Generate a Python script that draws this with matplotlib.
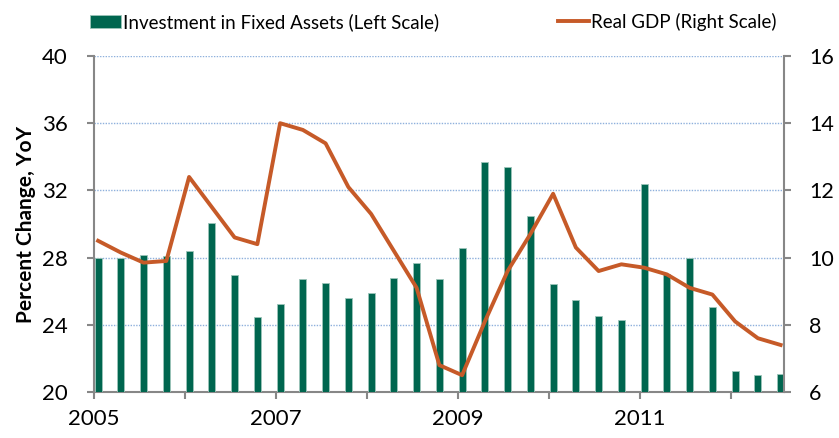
import numpy as np
import matplotlib
matplotlib.use("Agg")
import matplotlib.pyplot as plt

# ── data (quarterly, 2005Q1 – 2012Q3) ─────────────────────────────────────────
start_year = 2005
investment = [28.0, 28.0, 28.15, 28.1, 28.4, 30.05, 26.95, 24.45, 25.25, 26.7,
              26.5, 25.6, 25.9, 26.8, 27.65, 26.7, 28.6, 33.7, 33.4, 30.5,
              26.4, 25.45, 24.5, 24.3, 32.4, 27.05, 27.95, 25.05, 21.25, 21.0,
              21.05]
real_gdp = [10.5, 10.15, 9.85, 9.9, 12.4, 11.5, 10.6, 10.4, 14.0, 13.8,
            13.4, 12.1, 11.3, 10.2, 9.1, 6.8, 6.5, 8.1, 9.6, 10.7,
            11.9, 10.3, 9.6, 9.8, 9.7, 9.5, 9.1, 8.9, 8.1, 7.6, 7.4]
year_ticks = [2005, 2007, 2009, 2011]

# ── plot ──────────────────────────────────────────────────────────────────────
plt.rcParams["font.family"] = ["Lato", "DejaVu Sans"]

GREEN = "#00664F"
ORANGE = "#C65A28"
GREY = "#878787"
W, H = 839, 438

x = start_year + 0.045 + 0.25 * np.arange(len(investment))

fig = plt.figure(figsize=(W / 100, H / 100), dpi=100)
ax = fig.add_axes([94 / W, 1 - 392 / H, 690 / W, 336 / H])
ax2 = ax.twinx()

bars = ax.bar(x, investment, width=0.075, color=GREEN, edgecolor="#9CC5BA",
              linewidth=0.6, zorder=3, label="Investment in Fixed Assets (Left Scale)")
line, = ax2.plot(x, real_gdp, color=ORANGE, linewidth=2.8, zorder=4,
                 label="Real GDP (Right Scale)")

ax.set_xlim(2005, 2012.582)
ax.set_ylim(20, 40)
ax.set_yticks(np.arange(20, 41, 4))
ax2.set_ylim(6, 16)
ax2.set_yticks(np.arange(6, 17, 2))

ax.set_xticks(np.arange(2005, 2013, 1))
ax.set_xticklabels([str(y) if y in year_ticks else "" for y in range(2005, 2013)])

ax.yaxis.grid(True, linestyle=(0, (1, 1)), color="#8EB0DC", linewidth=1.0, zorder=0)
ax.set_axisbelow(True)

for a in (ax, ax2):
    a.spines["top"].set_visible(False)
    for s in ("left", "right", "bottom"):
        a.spines[s].set_color(GREY)
        a.spines[s].set_linewidth(1.5)
    a.tick_params(colors=GREY, labelcolor="black", labelsize=16, width=1.5,
                  length=5, direction="out")
ax.tick_params(axis="y", pad=14)
ax.tick_params(axis="x", pad=7)
ax2.tick_params(axis="y", pad=13, labelsize=15.5)
ax.spines["right"].set_visible(False)
ax2.spines["left"].set_visible(False)
ax2.spines["bottom"].set_visible(False)

ax.set_ylabel("Percent Change, YoY", fontsize=15, fontweight="bold", labelpad=4)

ax2.set_zorder(ax.get_zorder() + 1)
ax2.patch.set_visible(False)

leg_y = 1 - 22 / H
leg1 = fig.legend([bars], [bars.get_label()], loc="center left",
                  bbox_to_anchor=(90 / W, leg_y), frameon=False, fontsize=13.5,
                  handlelength=1.65, handletextpad=0.1, borderpad=0, borderaxespad=0)
fig.legend([line], [line.get_label()], loc="center left",
           bbox_to_anchor=(558 / W, leg_y), frameon=False, fontsize=13.5,
           handlelength=1.65, handletextpad=0.1, borderpad=0, borderaxespad=0)

plt.savefig("out.png", dpi=100)
